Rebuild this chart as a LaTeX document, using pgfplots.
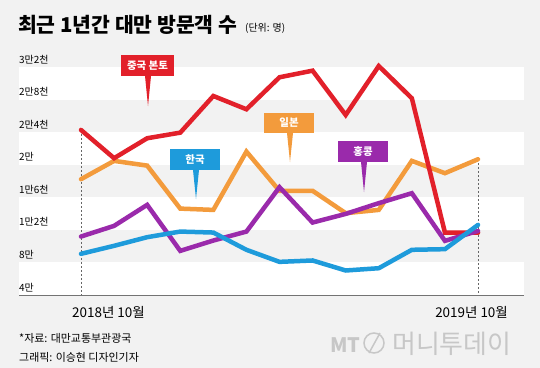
\documentclass[border=0pt]{standalone}
\usepackage{fontspec}
\setmainfont{Noto Sans CJK KR}
\usepackage{pgfplots}
\pgfplotsset{compat=1.18}
\definecolor{bg}{HTML}{F2F2F2}
\definecolor{cred}{HTML}{E2202A}
\definecolor{corange}{HTML}{F39B3C}
\definecolor{cpurple}{HTML}{9A2AAB}
\definecolor{cblue}{HTML}{1E9BDB}
\begin{document}
\begin{tikzpicture}
\fill[bg] (0bp,0bp) rectangle (540bp,-368bp);
\begin{axis}[at={(19bp,-295bp)}, anchor=south west, scale only axis,
  width=505bp, height=228bp, xmin=-1.874, xmax=13.39, ymin=4000, ymax=32000,
  hide axis, clip=false,
  every axis plot/.append style={line width=4.5bp, mark=none, line cap=round, line join=miter}]
\fill[white] (axis cs:-1.874,28000) rectangle (axis cs:13.39,32000);
\fill[white] (axis cs:-1.874,20000) rectangle (axis cs:13.39,24000);
\fill[white] (axis cs:-1.874,12000) rectangle (axis cs:13.39,16000);
\fill[white] (axis cs:-1.874,4000) rectangle (axis cs:13.39,8000);
\draw[black!60, line width=0.6bp, dash pattern=on 2bp off 2bp] (axis cs:0,24270) -- (axis cs:0,4000);
\draw[black!60, line width=0.6bp, dash pattern=on 2bp off 2bp] (axis cs:12,20670) -- (axis cs:12,4000);
\addplot[corange] coordinates {(0,18220)(1,20470)(2,19890)(3,14610)(4,14450)(5,21610)(6,16785)(7,16800)(8,14050)(9,14450)(10,20470)(11,18960)(12,20670)};
\addplot[cred] coordinates {(0,24270)(1,20800)(2,23250)(3,23940)(4,28440)(5,26810)(6,30740)(7,31550)(8,26110)(9,32120)(10,28160)(11,11670)(12,11650)};
\addplot[cpurple] coordinates {(0,11180)(1,12490)(2,15070)(3,9420)(4,10690)(5,11790)(6,17240)(7,12900)(8,13960)(9,15280)(10,16500)(11,10650)(12,11870)};
\addplot[cblue] coordinates {(0,9055)(1,10040)(2,11100)(3,11790)(4,11670)(5,9550)(6,8070)(7,8240)(8,7010)(9,7290)(10,9550)(11,9630)(12,12610)};
\draw[black!55, line width=0.8bp] (axis cs:-1.874,4000) -- (axis cs:13.39,4000);
\end{axis}
% title
\node[anchor=base west, inner sep=0pt] at (18bp,-32bp) {\fontsize{20.5}{21}\selectfont\bfseries 최근 1년간 대만 방문객 수};
\node[anchor=base west, inner sep=0pt] at (245bp,-31bp) {\fontsize{10}{11}\selectfont (단위: 명)};
% y labels
\foreach \y/\t in {67/3만2천, 99.6/2만8천, 132.1/2만4천, 164.7/2만, 197.3/1만6천, 229.9/1만2천, 262.4/8만, 295/4만}{
  \node[anchor=base west, inner sep=0pt] at (19bp,-\y bp+4bp) {\fontsize{10}{11}\selectfont \t};
}
% x labels
\node[anchor=base west, inner sep=0pt] at (72bp,-317bp) {\fontsize{13.5}{14}\selectfont 2018년 10월};
\node[anchor=base east, inner sep=0pt] at (508bp,-317bp) {\fontsize{13.5}{14}\selectfont 2019년 10월};
% footer
\node[anchor=base west, inner sep=0pt] at (19bp,-342bp) {\fontsize{11}{12}\selectfont *자료: 대만교통부관광국};
\node[anchor=base west, inner sep=0pt] at (19bp,-361bp) {\fontsize{11}{12}\selectfont 그래픽: 이승현 디자인기자};
% watermark
\node[anchor=base west, inner sep=0pt, text=black!22] at (330bp,-352bp) {\fontsize{20}{20}\selectfont\bfseries\itshape MT};
\draw[black!22, line width=1.5bp] (374bp,-343bp) circle (10bp);
\draw[black!22, line width=1.5bp] (369bp,-353bp) -- (380bp,-333bp);
\node[anchor=base west, inner sep=0pt, text=black!22] at (392bp,-353bp) {\fontsize{26}{26}\selectfont 머니투데이};
% callouts
\fill[cred] (121bp,-55bp) rectangle (174bp,-76bp);
\fill[cred] (145bp,-76bp) -- (151bp,-76bp) -- (148bp,-106bp) -- cycle;
\node[text=white, inner sep=0pt] at (147.5bp,-65.5bp) {\fontsize{10.5}{11}\selectfont\bfseries 중국 본토};
\fill[corange] (264bp,-113bp) rectangle (314bp,-133bp);
\fill[corange] (287bp,-133bp) -- (293bp,-133bp) -- (290bp,-162bp) -- cycle;
\node[text=white, inner sep=0pt] at (289bp,-123bp) {\fontsize{10.5}{11}\selectfont\bfseries 일본};
\fill[cblue] (170bp,-149bp) rectangle (220bp,-170bp);
\fill[cblue] (193bp,-170bp) -- (199bp,-170bp) -- (196bp,-199bp) -- cycle;
\node[text=white, inner sep=0pt] at (195bp,-159.5bp) {\fontsize{10.5}{11}\selectfont\bfseries 한국};
\fill[cpurple] (338bp,-141bp) rectangle (388bp,-162bp);
\fill[cpurple] (361bp,-162bp) -- (367bp,-162bp) -- (364bp,-192bp) -- cycle;
\node[text=white, inner sep=0pt] at (363bp,-151.5bp) {\fontsize{10.5}{11}\selectfont\bfseries 홍콩};
\pgfresetboundingbox
\path (0bp,0bp) rectangle (540bp,-368bp);
\end{tikzpicture}
\end{document}
